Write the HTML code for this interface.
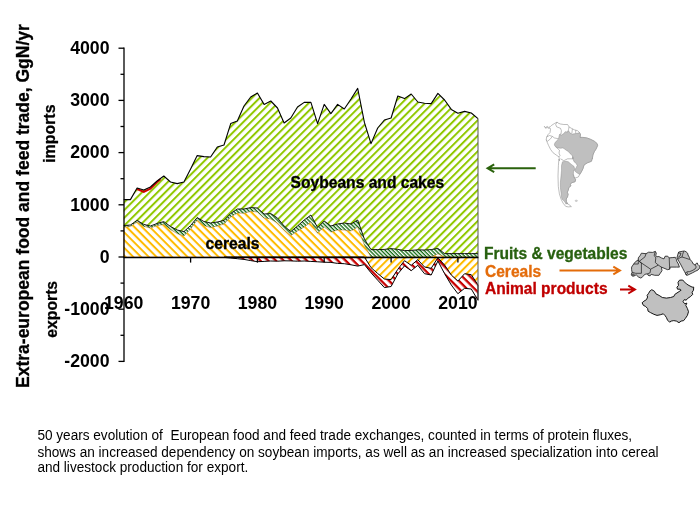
<!DOCTYPE html>
<html><head><meta charset="utf-8"><title>European food and feed trade</title>
<style>
html,body{margin:0;padding:0;background:#fff;}
body{width:700px;height:525px;overflow:hidden;position:relative;font-family:"Liberation Sans",sans-serif;}
svg{position:absolute;left:0;top:0;}
svg text{font-family:"Liberation Sans",sans-serif;font-weight:bold;fill:#000;}
.cap{position:absolute;left:37.4px;top:427.7px;width:650px;font-size:13.6px;line-height:14.55px;color:#000;white-space:pre;transform:scaleY(1.11);transform-origin:0 0;}
</style></head><body>
<svg width="700" height="525" viewBox="0 0 700 525">
<defs>
<pattern id="pg" width="5.483" height="5.483" patternUnits="userSpaceOnUse" patternTransform="rotate(-45) translate(0,-0.34)"><rect width="5.483" height="2.0" fill="#90c800"/></pattern>
<pattern id="po" width="5.483" height="5.483" patternUnits="userSpaceOnUse" patternTransform="rotate(45) translate(0,-1.26)"><rect width="5.483" height="2.0" fill="#ffbb00"/></pattern>
<pattern id="po2" width="5.483" height="5.483" patternUnits="userSpaceOnUse" patternTransform="rotate(-45) translate(0,1.56)"><rect width="5.483" height="2.0" fill="#ffbb00"/></pattern>
<pattern id="pf" width="2.7415" height="2.7415" patternUnits="userSpaceOnUse" patternTransform="rotate(45) translate(0,0)"><rect width="2.7415" height="1.3" fill="#0b660b"/></pattern>
<pattern id="pr" width="5.483" height="5.483" patternUnits="userSpaceOnUse" patternTransform="rotate(45) translate(0,-0.94)"><rect width="5.483" height="2.3" fill="#c80000"/></pattern>
</defs>
<polygon points="123.7,199.6 130.4,199.6 137.1,188.0 143.8,190.0 150.4,187.0 157.1,181.0 163.8,176.0 170.5,182.0 177.2,183.6 183.9,182.0 190.6,169.0 197.2,155.6 203.9,156.6 210.6,157.0 217.3,147.0 224.0,145.0 230.7,123.6 237.3,121.0 244.0,106.0 250.7,97.0 257.4,93.0 264.1,104.4 270.8,101.0 277.5,108.0 284.1,123.0 290.8,118.0 297.5,107.0 304.2,102.4 310.9,102.4 317.6,123.6 324.2,104.4 330.9,113.6 337.6,104.4 344.3,109.0 351.0,99.0 357.7,88.4 364.4,122.4 371.0,143.6 377.7,128.0 384.4,120.0 391.1,118.0 397.8,96.0 404.5,98.6 411.2,94.0 417.8,102.0 424.5,103.2 431.2,103.6 437.9,93.4 444.6,100.0 451.3,109.4 457.9,113.2 464.6,111.4 471.3,113.0 478.0,118.6 478.0,253.6 471.3,253.6 464.6,253.6 457.9,253.6 451.3,253.6 444.6,253.6 437.9,248.4 431.2,249.6 424.5,250.0 417.8,249.8 411.2,250.4 404.5,250.6 397.8,249.4 391.1,248.6 384.4,249.4 377.7,249.6 371.0,249.6 364.4,239.0 357.7,220.0 351.0,224.0 344.3,223.0 337.6,224.0 330.9,226.0 324.2,221.0 317.6,227.6 310.9,215.0 304.2,220.0 297.5,226.0 290.8,231.6 284.1,226.0 277.5,218.0 270.8,213.6 264.1,214.0 257.4,208.0 250.7,207.6 244.0,209.0 237.3,209.0 230.7,213.5 224.0,220.4 217.3,222.0 210.6,223.0 203.9,221.5 197.2,217.6 190.6,225.5 183.9,231.6 177.2,230.0 170.5,226.5 163.8,221.6 157.1,223.5 150.4,226.0 143.8,224.4 137.1,220.4 130.4,225.0 123.7,225.6" fill="url(#pg)"/>
<polygon points="123.7,227.0 130.4,226.6 137.1,222.0 143.8,226.4 150.4,228.0 157.1,225.6 163.8,224.4 170.5,229.6 177.2,233.6 183.9,236.0 190.6,229.0 197.2,220.0 203.9,225.6 210.6,227.6 217.3,226.0 224.0,224.0 230.7,217.0 237.3,213.0 244.0,213.3 250.7,211.3 257.4,212.0 264.1,218.0 270.8,219.0 277.5,223.0 284.1,230.0 290.8,235.6 297.5,231.0 304.2,227.0 310.9,222.0 317.6,233.0 324.2,227.0 330.9,232.0 337.6,230.0 344.3,230.0 351.0,231.0 357.7,227.0 364.4,245.0 371.0,257.0 377.7,257.0 384.4,257.0 391.1,257.0 397.8,257.0 404.5,257.0 411.2,257.0 417.8,257.0 424.5,257.0 431.2,257.0 437.9,253.7 444.6,257.0 451.3,257.0 457.9,257.0 464.6,257.0 471.3,257.0 478.0,257.0 478.0,257.0 471.3,257.0 464.6,257.0 457.9,257.0 451.3,257.0 444.6,257.0 437.9,257.0 431.2,257.0 424.5,257.0 417.8,257.0 411.2,257.0 404.5,257.0 397.8,257.0 391.1,257.0 384.4,257.0 377.7,257.0 371.0,257.0 364.4,257.0 357.7,257.0 351.0,257.0 344.3,257.0 337.6,257.0 330.9,257.0 324.2,257.0 317.6,257.0 310.9,257.0 304.2,257.0 297.5,257.0 290.8,257.0 284.1,257.0 277.5,257.0 270.8,257.0 264.1,257.0 257.4,257.0 250.7,257.0 244.0,257.0 237.3,257.0 230.7,257.0 224.0,257.0 217.3,257.0 210.6,257.0 203.9,257.0 197.2,257.0 190.6,257.0 183.9,257.0 177.2,257.0 170.5,257.0 163.8,257.0 157.1,257.0 150.4,257.0 143.8,257.0 137.1,257.0 130.4,257.0 123.7,257.0" fill="url(#po)" stroke="#c87838" stroke-width="0.6"/>
<polygon points="123.7,225.6 130.4,225.0 137.1,220.4 143.8,224.4 150.4,226.0 157.1,223.5 163.8,221.6 170.5,226.5 177.2,230.0 183.9,231.6 190.6,225.5 197.2,217.6 203.9,221.5 210.6,223.0 217.3,222.0 224.0,220.4 230.7,213.5 237.3,209.0 244.0,209.0 250.7,207.6 257.4,208.0 264.1,214.0 270.8,213.6 277.5,218.0 284.1,226.0 290.8,231.6 297.5,226.0 304.2,220.0 310.9,215.0 317.6,227.6 324.2,221.0 330.9,226.0 337.6,224.0 344.3,223.0 351.0,224.0 357.7,220.0 364.4,239.0 371.0,249.6 377.7,249.6 384.4,249.4 391.1,248.6 397.8,249.4 404.5,250.6 411.2,250.4 417.8,249.8 424.5,250.0 431.2,249.6 437.9,248.4 444.6,253.6 451.3,253.6 457.9,253.6 464.6,253.6 471.3,253.6 478.0,253.6 478.0,257.0 471.3,257.0 464.6,257.0 457.9,257.0 451.3,257.0 444.6,257.0 437.9,253.7 431.2,257.0 424.5,257.0 417.8,257.0 411.2,257.0 404.5,257.0 397.8,257.0 391.1,257.0 384.4,257.0 377.7,257.0 371.0,257.0 364.4,245.0 357.7,227.0 351.0,231.0 344.3,230.0 337.6,230.0 330.9,232.0 324.2,227.0 317.6,233.0 310.9,222.0 304.2,227.0 297.5,231.0 290.8,235.6 284.1,230.0 277.5,223.0 270.8,219.0 264.1,218.0 257.4,212.0 250.7,211.3 244.0,213.3 237.3,213.0 230.7,217.0 224.0,224.0 217.3,226.0 210.6,227.6 203.9,225.6 197.2,220.0 190.6,229.0 183.9,236.0 177.2,233.6 170.5,229.6 163.8,224.4 157.1,225.6 150.4,228.0 143.8,226.4 137.1,222.0 130.4,226.6 123.7,227.0" fill="url(#pf)"/>
<polygon points="364.4,257.0 371.0,257.0 377.7,257.0 384.4,257.0 391.1,257.0 397.8,257.0 404.5,257.0 411.2,257.0 417.8,257.0 424.5,257.0 431.2,257.0 437.9,257.0 444.6,257.0 451.3,257.0 457.9,257.0 464.6,257.0 471.3,257.0 478.0,257.0 478.0,285.0 471.3,274.7 464.6,273.7 457.9,281.0 451.3,275.0 444.6,265.0 437.9,257.7 431.2,268.3 424.5,267.0 417.8,259.7 411.2,265.3 404.5,260.7 397.8,269.3 391.1,279.6 384.4,279.0 377.7,273.5 371.0,267.6 364.4,257.0" fill="url(#po2)"/>
<polygon points="224.0,257.0 230.7,257.0 237.3,257.0 244.0,257.0 250.7,257.0 257.4,257.0 264.1,257.0 270.8,257.0 277.5,257.0 284.1,257.0 290.8,257.0 297.5,257.0 304.2,257.0 310.9,257.0 317.6,257.0 324.2,257.0 330.9,257.0 337.6,257.0 344.3,257.0 351.0,257.0 357.7,257.0 364.4,257.0 371.0,267.6 377.7,273.5 384.4,279.0 391.1,279.6 397.8,269.3 404.5,260.7 411.2,265.3 417.8,259.7 424.5,267.0 431.2,268.3 437.9,257.7 444.6,265.0 451.3,275.0 457.9,281.0 464.6,273.7 471.3,274.7 478.0,285.0 478.0,300.3 471.3,289.0 464.6,288.3 457.9,293.7 451.3,285.0 444.6,273.7 437.9,261.0 431.2,275.0 424.5,273.7 417.8,265.3 411.2,270.7 404.5,265.9 397.8,273.9 391.1,286.5 384.4,287.6 377.7,280.2 371.0,272.8 364.4,264.6 357.7,266.1 351.0,264.8 344.3,263.7 337.6,263.4 330.9,262.4 324.2,262.2 317.6,261.8 310.9,261.4 304.2,261.0 297.5,261.2 290.8,260.9 284.1,260.8 277.5,261.2 270.8,261.0 264.1,261.4 257.4,261.7 250.7,260.6 244.0,259.4 237.3,258.7 230.7,258.0 224.0,257.4" fill="url(#pr)" stroke="#000" stroke-width="1" stroke-linejoin="round"/>
<polyline points="123.7,225.6 130.4,225.0 137.1,220.4 143.8,224.4 150.4,226.0 157.1,223.5 163.8,221.6 170.5,226.5 177.2,230.0 183.9,231.6 190.6,225.5 197.2,217.6 203.9,221.5 210.6,223.0 217.3,222.0 224.0,220.4 230.7,213.5 237.3,209.0 244.0,209.0 250.7,207.6 257.4,208.0 264.1,214.0 270.8,213.6 277.5,218.0 284.1,226.0 290.8,231.6 297.5,226.0 304.2,220.0 310.9,215.0 317.6,227.6 324.2,221.0 330.9,226.0 337.6,224.0 344.3,223.0 351.0,224.0 357.7,220.0 364.4,239.0 371.0,249.6 377.7,249.6 384.4,249.4 391.1,248.6 397.8,249.4 404.5,250.6 411.2,250.4 417.8,249.8 424.5,250.0 431.2,249.6 437.9,248.4 444.6,253.6 451.3,253.6 457.9,253.6 464.6,253.6 471.3,253.6 478.0,253.6" fill="none" stroke="#000" stroke-width="0.9" stroke-linejoin="round"/>
<polyline points="137.1,189 143.8,191.8 150.4,188.6 157.1,182 160.5,179.3" fill="none" stroke="#d00000" stroke-width="2"/>
<polyline points="123.7,199.6 130.4,199.6 137.1,188.0 143.8,190.0 150.4,187.0 157.1,181.0 163.8,176.0 170.5,182.0 177.2,183.6 183.9,182.0 190.6,169.0 197.2,155.6 203.9,156.6 210.6,157.0 217.3,147.0 224.0,145.0 230.7,123.6 237.3,121.0 244.0,106.0 250.7,97.0 257.4,93.0 264.1,104.4 270.8,101.0 277.5,108.0 284.1,123.0 290.8,118.0 297.5,107.0 304.2,102.4 310.9,102.4 317.6,123.6 324.2,104.4 330.9,113.6 337.6,104.4 344.3,109.0 351.0,99.0 357.7,88.4 364.4,122.4 371.0,143.6 377.7,128.0 384.4,120.0 391.1,118.0 397.8,96.0 404.5,98.6 411.2,94.0 417.8,102.0 424.5,103.2 431.2,103.6 437.9,93.4 444.6,100.0 451.3,109.4 457.9,113.2 464.6,111.4 471.3,113.0 478.0,118.6" fill="none" stroke="#000" stroke-width="1.1" stroke-linejoin="round"/>
<line x1="478" y1="118.6" x2="478" y2="300" stroke="#555" stroke-width="1"/>
<g stroke="#000" stroke-width="1.3" fill="none">
<line x1="124" y1="47.6" x2="124" y2="362"/>
<line x1="123.4" y1="257.5" x2="478.4" y2="257.5" stroke-width="1.35"/>
<line x1="118.5" y1="48.2" x2="124" y2="48.2"/><line x1="120.5" y1="74.3" x2="124" y2="74.3"/><line x1="118.5" y1="100.4" x2="124" y2="100.4"/><line x1="120.5" y1="126.5" x2="124" y2="126.5"/><line x1="118.5" y1="152.6" x2="124" y2="152.6"/><line x1="120.5" y1="178.7" x2="124" y2="178.7"/><line x1="118.5" y1="204.8" x2="124" y2="204.8"/><line x1="120.5" y1="230.9" x2="124" y2="230.9"/><line x1="118.5" y1="257.0" x2="124" y2="257.0"/><line x1="120.5" y1="283.1" x2="124" y2="283.1"/><line x1="118.5" y1="309.2" x2="124" y2="309.2"/><line x1="120.5" y1="335.3" x2="124" y2="335.3"/><line x1="118.5" y1="361.4" x2="124" y2="361.4"/>
<line x1="190.6" y1="257" x2="190.6" y2="262.6"/><line x1="257.4" y1="257" x2="257.4" y2="262.6"/><line x1="324.2" y1="257" x2="324.2" y2="262.6"/><line x1="391.1" y1="257" x2="391.1" y2="262.6"/><line x1="457.9" y1="257" x2="457.9" y2="262.6"/>
</g>
<g font-size="17.7"><text x="109.5" y="54.0" text-anchor="end">4000</text><text x="109.5" y="106.2" text-anchor="end">3000</text><text x="109.5" y="158.4" text-anchor="end">2000</text><text x="109.5" y="210.6" text-anchor="end">1000</text><text x="109.5" y="262.8" text-anchor="end">0</text><text x="109.5" y="315.0" text-anchor="end">-1000</text><text x="109.5" y="367.2" text-anchor="end">-2000</text><text x="123.7" y="308.8" text-anchor="middle">1960</text><text x="190.6" y="308.8" text-anchor="middle">1970</text><text x="257.4" y="308.8" text-anchor="middle">1980</text><text x="324.2" y="308.8" text-anchor="middle">1990</text><text x="391.1" y="308.8" text-anchor="middle">2000</text><text x="457.9" y="308.8" text-anchor="middle">2010</text></g>
<text transform="translate(290.6,187.8) scale(1,1.04)" font-size="15.62" stroke="#000" stroke-width="0.3">Soybeans and cakes</text>
<text transform="translate(205.6,249.0) scale(1,1.07)" font-size="15.62" stroke="#000" stroke-width="0.3">cereals</text>
<text transform="translate(28.6,388.0) rotate(-90) scale(1,1.1)" font-size="17.52" stroke="#000" stroke-width="0.3">Extra-european food and feed trade, GgN/yr</text>
<text transform="translate(55.2,162.8) rotate(-90) scale(1,1.04)" font-size="15.9" stroke="#000" stroke-width="0.25">imports</text>
<text transform="translate(57.3,337.7) rotate(-90) scale(1,1.04)" font-size="15.75" stroke="#000" stroke-width="0.25">exports</text>
<text transform="translate(484,259.3) scale(1,1.02)" font-size="15.55" style="fill:#27600f;stroke:#27600f;stroke-width:0.3">Fruits &amp; vegetables</text>
<text transform="translate(485,276.5) scale(1,1.02)" font-size="15.55" style="fill:#e46c0a;stroke:#e46c0a;stroke-width:0.3">Cereals</text>
<text transform="translate(485,293.5) scale(1,1.02)" font-size="15.55" style="fill:#c00000;stroke:#c00000;stroke-width:0.3">Animal products</text>
<g fill="none" stroke-width="2" stroke-linejoin="miter">
<path d="M535.7,168.3 H488 M494.2,164.4 L487.6,168.3 L494.2,172.2" stroke="#2a620c"/>
<path d="M559.5,270.5 H619.5 M613.3,266.6 L619.9,270.5 L613.3,274.4" stroke="#e46c0a"/>
<path d="M620,289.6 H634.5 M628.3,285.7 L634.9,289.6 L628.3,293.5" stroke="#c00000"/>
</g>
<g>
<path d="M544.3,126.4 L545.7,127.6 L547.1,126.4 L548.6,127.4 L550.0,126.9 L551.4,125.5 L554.3,123.6 L557.1,122.1 L558.1,123.1 L560.5,124.0 L563.8,124.5 L567.6,124.5 L569.0,126.9 L571.4,128.3 L574.3,129.8 L577.6,130.7 L579.5,132.6 L580.5,134.5 L580.0,137.4 L582.9,137.4 L586.7,137.9 L590.5,139.3 L594.3,141.2 L597.1,143.6 L597.6,145.5 L596.2,148.8 L594.3,151.7 L592.9,155.0 L592.4,158.3 L592.4,158.1 L591.4,161.3 L587.2,162.9 L584.0,165.0 L583.0,168.6 L581.4,171.8 L579.8,174.4 L578.3,177.0 L575.6,177.9 L574.1,177.5 L575.6,179.6 L575.1,181.7 L571.4,182.8 L570.4,184.4 L570.9,185.9 L568.8,187.5 L568.3,190.1 L567.3,192.2 L568.1,194.3 L567.5,196.9 L566.2,199.0 L566.4,201.6 L567.5,203.7 L569.9,205.3 L571.4,206.6 L568.3,206.9 L565.7,206.4 L563.1,203.2 L561.0,199.0 L559.4,193.8 L558.3,186.4 L558.0,176.0 L558.4,165.5 L558.9,159.2 L559.5,160.7 L559.0,156.9 L556.2,155.0 L552.9,152.6 L550.5,149.3 L548.6,145.5 L547.1,142.1 L546.2,139.8 L546.7,136.9 L548.1,134.5 L550.0,132.6 L550.5,129.3 L550.0,127.9 L548.6,128.3 L547.1,127.4 L545.7,128.3 L544.3,126.4Z" fill="#fff" stroke="#7c7c7c" stroke-width="0.5"/>
<path d="M557.1,122.1 L555.7,124.5 L556.7,126.9 L560.5,128.3 L561.4,130.7 L561.0,134.0 L559.5,134.5" fill="none" stroke="#7c7c7c" stroke-width="0.5"/>
<path d="M569.0,126.9 L568.6,129.3 L567.6,132.1" fill="none" stroke="#7c7c7c" stroke-width="0.5"/>
<path d="M572.4,128.8 L571.9,133.1" fill="none" stroke="#7c7c7c" stroke-width="0.5"/>
<path d="M575.7,130.2 L575.7,133.6" fill="none" stroke="#7c7c7c" stroke-width="0.5"/>
<path d="M546.7,136.9 L549.5,135.5 L552.4,136.4 L554.3,137.9 L558.6,138.8" fill="none" stroke="#7c7c7c" stroke-width="0.5"/>
<path d="M546.2,139.8 L547.6,141.2 L550.5,138.8 L552.4,136.4" fill="none" stroke="#7c7c7c" stroke-width="0.5"/>
<path d="M555.7,146.9 L559.5,150.2 L559.0,153.1 L560.0,155.5 L559.0,156.9" fill="none" stroke="#7c7c7c" stroke-width="0.5"/>
<path d="M560.5,158.8 L563.8,160.7 L567.6,158.8 L572.9,158.8" fill="none" stroke="#7c7c7c" stroke-width="0.5"/>
<path d="M565.2,203.7 L567.5,203.7" fill="none" stroke="#7c7c7c" stroke-width="0.5"/>
<path d="M573.5,174.4 L574.1,177.5" fill="none" stroke="#7c7c7c" stroke-width="0.5"/>
<path d="M559.5,134.5 L561.4,135.0 L563.8,133.6 L565.2,131.7 L567.6,132.1 L568.6,130.7 L570.0,133.1 L572.4,134.0 L575.7,133.6 L578.1,133.1 L579.5,132.6 L580.5,134.5 L580.0,137.4 L582.9,137.4 L586.7,137.9 L590.5,139.3 L594.3,141.2 L597.1,143.6 L597.6,145.5 L596.2,148.8 L594.3,151.7 L592.9,155.0 L592.4,158.3 L592.4,158.1 L591.4,161.3 L587.2,162.9 L584.0,165.0 L583.0,168.6 L581.4,171.8 L579.8,174.4 L577.7,173.3 L575.6,171.8 L574.6,170.2 L576.2,167.6 L577.2,165.5 L576.2,163.4 L574.1,161.8 L573.0,159.2 L572.5,156.6 L572.9,158.8 L572.9,156.9 L571.9,155.0 L570.0,153.6 L568.6,151.7 L566.2,150.2 L564.3,148.8 L562.9,147.9 L560.5,148.3 L558.1,147.9 L555.7,146.9 L554.3,145.0 L554.8,143.1 L556.7,140.7 L558.6,138.8 L559.0,136.4Z" fill="#bfbfbf" stroke="#7c7c7c" stroke-width="0.4"/>
<path d="M562.5,161.8 L566.2,161.3 L568.3,161.8 L571.4,164.4 L574.1,166.5 L574.6,169.2 L573.5,171.8 L573.3,174.9 L574.1,177.5 L575.6,179.6 L575.1,181.7 L571.4,182.8 L570.4,184.4 L570.9,185.9 L568.8,187.5 L568.3,190.1 L567.3,192.2 L568.1,194.3 L567.5,196.9 L566.2,199.0 L566.4,201.6 L567.5,203.7 L565.7,203.2 L564.1,201.1 L562.0,199.0 L561.5,196.9 L561.0,192.7 L560.4,187.5 L560.4,182.3 L561.0,176.0 L561.5,170.7 L561.5,165.5Z" fill="#bfbfbf" stroke="#7c7c7c" stroke-width="0.4"/>
<ellipse cx="576.3" cy="200.8" rx="1.2" ry="0.7" fill="#ddd" stroke="#999" stroke-width="0.4"/>
<path d="M641.4,253.2 L646.0,253.7 L648.6,252.2 L652.7,252.4 L655.3,251.4 L656.3,253.2 L655.8,255.3 L656.8,256.8 L658.9,256.5 L661.4,257.9 L664.0,258.9 L665.0,256.3 L667.6,256.1 L669.2,257.9 L672.2,257.6 L675.3,257.3 L676.4,259.4 L676.9,261.5 L678.4,264.0 L679.4,267.1 L676.4,267.1 L670.2,267.1 L669.7,269.2 L667.6,269.7 L661.4,267.1 L662.0,270.7 L659.9,273.8 L658.9,275.3 L654.7,275.3 L651.1,274.3 L650.1,275.9 L648.1,275.3 L647.5,273.8 L645.0,274.3 L642.4,276.9 L640.9,278.1 L638.3,276.9 L636.2,274.8 L634.2,275.9 L632.1,275.9 L631.3,274.3 L632.1,272.3 L631.6,269.7 L631.6,267.1 L633.7,264.0 L635.7,261.5 L638.3,259.9 L638.3,257.9 L640.3,255.3Z" fill="#c0c0c0" stroke="#151515" stroke-width="0.8" stroke-linejoin="round"/>
<path d="M678.7,252.0 L682.3,251.3 L684.3,251.0 L686.0,251.7 L687.7,253.3 L688.0,255.0 L689.3,257.3 L690.0,259.3 L692.0,261.7 L693.3,264.0 L695.0,265.0 L696.3,263.3 L697.3,263.0 L697.7,264.3 L699.0,265.7 L700.0,266.3 L699.7,268.0 L698.0,270.0 L695.3,271.3 L692.7,272.7 L690.0,274.0 L687.3,275.3 L686.0,275.0 L685.3,273.0 L684.3,271.3 L682.7,268.3 L681.0,265.0 L679.3,262.0 L677.7,259.3 L677.0,257.7 L677.7,255.0 L678.3,253.0Z" fill="#c0c0c0" stroke="#151515" stroke-width="0.8" stroke-linejoin="round"/>
<path d="M646.0,253.7 L645.0,256.8 L639.3,261.3" fill="none" stroke="#151515" stroke-width="0.7" stroke-linejoin="round"/>
<path d="M638.3,259.9 L639.3,261.5 L641.4,263.0 L641.4,273.3 L635.7,273.3 L632.1,272.3" fill="none" stroke="#151515" stroke-width="0.7" stroke-linejoin="round"/>
<path d="M639.3,261.5 L650.6,269.2 L658.3,265.1" fill="none" stroke="#151515" stroke-width="0.7" stroke-linejoin="round"/>
<path d="M655.3,251.4 L654.2,255.3 L655.8,257.9 L655.3,262.5 L658.3,265.1 L661.4,267.1" fill="none" stroke="#151515" stroke-width="0.7" stroke-linejoin="round"/>
<path d="M650.6,269.2 L650.1,272.8 L647.5,273.8" fill="none" stroke="#151515" stroke-width="0.7" stroke-linejoin="round"/>
<path d="M669.2,257.9 L669.7,269.2" fill="none" stroke="#151515" stroke-width="0.7" stroke-linejoin="round"/>
<path d="M633.7,264.0 L638.3,264.0 L638.3,259.9" fill="none" stroke="#151515" stroke-width="0.7" stroke-linejoin="round"/>
<path d="M683.7,251.3 L682.7,254.3 L682.0,257.0 L685.3,258.0 L689.7,259.5" fill="none" stroke="#151515" stroke-width="0.7" stroke-linejoin="round"/>
<path d="M678.3,253.0 L681.0,253.3 L680.0,256.0 L677.7,257.7" fill="none" stroke="#151515" stroke-width="0.7" stroke-linejoin="round"/>
<path d="M677.7,259.3 L680.0,257.7 L682.0,257.0" fill="none" stroke="#151515" stroke-width="0.7" stroke-linejoin="round"/>
<path d="M685.3,273.0 L687.3,271.7 L689.3,271.7 L692.0,270.7 L695.0,269.0 L696.3,267.0 L695.0,265.0" fill="none" stroke="#151515" stroke-width="0.7" stroke-linejoin="round"/>
<path d="M686.0,275.0 L687.5,273.8 L687.0,272.2" fill="none" stroke="#151515" stroke-width="0.7" stroke-linejoin="round"/>
<ellipse cx="633.1" cy="275.0" rx="1.3" ry="1.1" fill="#888" stroke="#222" stroke-width="0.6"/>
<path d="M651.8,289.7 L654.4,291.2 L656.0,293.9 L659.1,295.4 L662.3,297.5 L666.4,298.1 L670.6,297.5 L673.8,296.5 L674.8,294.4 L678.0,292.3 L681.1,290.2 L680.1,289.2 L677.5,289.2 L676.9,287.1 L678.5,285.5 L678.0,282.3 L679.5,280.2 L682.7,280.0 L684.3,281.8 L686.4,283.9 L689.0,285.5 L692.1,287.1 L693.7,287.1 L693.5,290.2 L692.1,292.3 L692.7,294.4 L690.6,296.5 L687.4,298.6 L686.2,300.2 L684.3,299.6 L683.0,301.7 L684.8,303.8 L686.9,303.1 L685.8,305.4 L687.4,308.5 L688.5,311.7 L687.4,315.4 L685.3,318.5 L683.7,320.6 L681.1,321.1 L679.0,322.7 L676.4,321.1 L673.8,320.6 L671.2,321.1 L669.6,322.2 L667.5,320.1 L666.4,317.5 L664.9,315.4 L663.3,313.8 L660.2,314.8 L657.0,315.4 L653.9,314.3 L650.7,312.7 L648.1,311.2 L647.6,308.5 L645.5,306.4 L643.4,305.4 L642.1,302.8 L643.9,301.2 L646.5,299.6 L647.6,297.0 L647.1,295.4 L648.6,293.3 L650.2,290.7Z" fill="#c0c0c0" stroke="#0a0a0a" stroke-width="0.95" stroke-linejoin="round"/>
</g>
</svg>
<div class="cap">50 years evolution of  European food and feed trade exchanges, counted in terms of protein fluxes,
shows an increased dependency on soybean imports, as well as an increased specialization into cereal
and livestock production for export.</div>
</body></html>
